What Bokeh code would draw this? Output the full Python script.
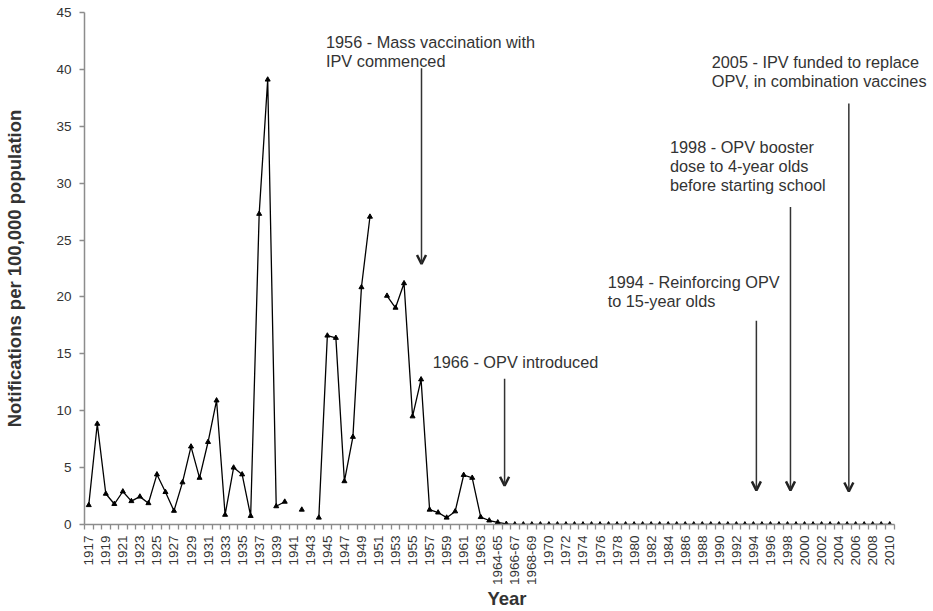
import math
from bokeh.plotting import figure
from bokeh.models import FixedTicker, Range1d, Arrow, OpenHead, Label, ColumnDataSource
from bokeh.embed import file_html
from bokeh.resources import INLINE

# ---- data ----
years_a = [str(y) for y in range(1917, 1964)]
years_mid = ["1964", "1964-65", "1965", "1966-67", "1967", "1968-69", "1969"]
years_b = [str(y) for y in range(1970, 2011)]
categories = years_a + years_mid + years_b
hidden_labels = ["1964", "1965", "1967", "1969"]

nan = float("nan")
rates_a = [1.7, 8.85, 2.7, 1.8, 2.9, 2.05, 2.45, 1.87, 4.4, 2.85,
           1.2, 3.7, 6.85, 4.1, 7.25, 10.9, 0.85, 5.0, 4.4, 0.75,
           27.3, 39.1, 1.6, 2.0, nan, 1.3, nan, 0.6, 16.6, 16.4,
           3.8, 7.7, 20.85, 27.05, nan, 20.1, 19.05, 21.2, 9.5, 12.75,
           1.3, 1.05, 0.6, 1.15, 4.35, 4.1, 0.65]
rates_mid = [0.35, 0.18, 0.05, 0.0, 0.0, 0.0, 0.0]
rates_b = [0.0] * 41
rates = rates_a + rates_mid + rates_b

y_ticks = [0, 5, 10, 15, 20, 25, 30, 35, 40, 45]

events = ["1956 - Mass vaccination with\nIPV commenced",
          "1966 - OPV introduced",
          "1994 - Reinforcing OPV\nto 15-year olds",
          "1998 - OPV booster\ndose to 4-year olds\nbefore starting school",
          "2005 - IPV funded to replace\nOPV, in combination vaccines"]
event_cat = ["1956", "1964-65", "1994", "1998", "2005"]
arrow_shift = [0.05, 0.8, 0.35, 0.35, 0.2]
arrow_top = [40.1, 12.8, 17.9, 27.9, 37.0]
arrow_tip = [22.9, 3.4, 3.0, 3.0, 2.9]
label_x = [27.84, 40.36, 60.90, 68.21, 73.11]
label_top = [43.22, 15.1, 22.13, 33.99, 41.41]

# ---- figure ----
n = len(categories)
FONT = "Liberation Sans"
AXIS_PX = 809.5          # pixel length of the category axis
FRAME_W = 845            # frame extends right so annotation text is not clipped
x_end = -0.5 + n * FRAME_W / AXIS_PX

p = figure(output_backend="svg", toolbar_location=None,
           frame_width=FRAME_W, frame_height=512,
           x_range=Range1d(-0.5, x_end), y_range=Range1d(0, 45))
p.min_border_left = 84
p.min_border_right = 1
p.min_border_top = 12
p.min_border_bottom = 70
p.outline_line_color = None
p.xgrid.visible = False
p.ygrid.visible = False
p.background_fill_color = "white"

idx = list(range(n))
src = ColumnDataSource(dict(x=idx, y=rates))
p.line("x", "y", source=src, line_color="black", line_width=1.3)
p.scatter("x", "y", source=src, marker="triangle", size=5, color="black")

# x axis
shown = [i for i, c in enumerate(categories) if c not in hidden_labels and (i % 2 == 0)]
xax = p.xaxis[0]
xax.bounds = (-0.5, n - 0.5)
xax.ticker = FixedTicker(ticks=shown, minor_ticks=[i - 0.5 for i in idx] + [n - 0.5])
xax.major_label_overrides = {i: categories[i] for i in shown}
xax.major_tick_line_color = None
xax.major_tick_out = 0
xax.major_tick_in = 0
xax.minor_tick_line_color = "#8c8c8c"
xax.minor_tick_line_width = 1.3
xax.minor_tick_out = 5
xax.minor_tick_in = 0
xax.axis_line_color = "#8c8c8c"
xax.axis_line_width = 1.5
xax.major_label_orientation = math.pi / 2
xax.major_label_text_font = FONT
xax.major_label_text_font_size = "13.5px"
xax.major_label_text_color = "#333333"
xax.major_label_standoff = 6
xax.axis_label = "Year"
xax.axis_label_text_font = FONT
xax.axis_label_text_font_style = "bold"
xax.axis_label_text_font_size = "18.5px"
xax.axis_label_text_color = "#333333"
xax.axis_label_standoff = 0

# y axis
yax = p.yaxis[0]
yax.ticker = FixedTicker(ticks=y_ticks)
yax.minor_tick_line_color = None
yax.major_tick_line_color = "#8c8c8c"
yax.major_tick_line_width = 1.3
yax.major_tick_out = 5
yax.major_tick_in = 0
yax.axis_line_color = "#8c8c8c"
yax.axis_line_width = 1.5
yax.major_label_text_font = FONT
yax.major_label_text_font_size = "13.5px"
yax.major_label_text_color = "#333333"
yax.major_label_standoff = 8
yax.axis_label = "Notifications per 100,000 population"
yax.axis_label_text_font = FONT
yax.axis_label_text_font_style = "bold"
yax.axis_label_text_font_size = "18.5px"
yax.axis_label_text_color = "#333333"
yax.axis_label_standoff = 28

# annotations
for txt, cat, sh, top, tip, lx, ly in zip(events, event_cat, arrow_shift, arrow_top,
                                         arrow_tip, label_x, label_top):
    xa = categories.index(cat) + sh
    p.add_layout(Arrow(x_start=xa, y_start=top, x_end=xa, y_end=tip,
                       line_color="#333333", line_width=1.5,
                       end=OpenHead(size=9, line_width=2.5, line_color="#222222")))
    p.add_layout(Label(x=lx, y=ly, text=txt, text_font=FONT, text_font_size="16.3px",
                       text_color="#333333", text_baseline="top", text_align="left",
                       text_line_height=1.05))

open("out.html", "w").write(file_html(p, INLINE))
